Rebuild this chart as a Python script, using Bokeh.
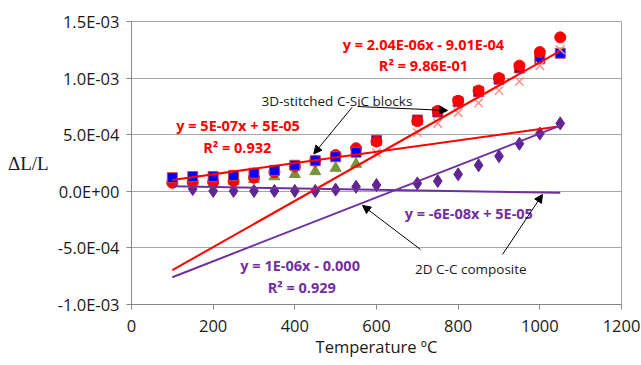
import numpy as np
from bokeh.plotting import figure
from bokeh.models import Range1d, FixedTicker, Label, Arrow, NormalHead
from bokeh.embed import file_html
from bokeh.resources import INLINE

# ---------------- data ----------------
temps = [100, 150, 200, 250, 300, 350, 400, 450, 500, 550, 600,
         700, 750, 800, 850, 900, 950, 1000, 1050]
blue_squares = [1.2e-4, 1.3e-4, 1.3e-4, 1.4e-4, 1.6e-4, 1.85e-4, 2.3e-4, 2.7e-4, 3.05e-4, 3.45e-4, 4.5e-4,
                6.3e-4, 7.0e-4, 7.9e-4, 8.8e-4, 9.9e-4, 1.09e-3, 1.17e-3, 1.22e-3]
red_circles = [7.5e-5, 8e-5, 8e-5, 9e-5, 1.2e-4, 1.7e-4, 2.2e-4, 2.7e-4, 3.2e-4, 3.8e-4, 4.4e-4,
               6.2e-4, 7.1e-4, 8.0e-4, 8.9e-4, 1.0e-3, 1.11e-3, 1.23e-3, 1.36e-3]
green_temps = [250, 300, 350, 400, 450, 500, 550]
green_triangles = [9e-5, 1.05e-4, 1.3e-4, 1.5e-4, 1.75e-4, 2.05e-4, 2.4e-4]
pink_temps = [600, 700, 750, 800, 850, 900, 950, 1000, 1050]
pink_crosses = [3.4e-4, 5.2e-4, 6.0e-4, 6.95e-4, 7.8e-4, 8.9e-4, 9.7e-4, 1.11e-3, 1.25e-3]
purple_diamonds = [9e-5, 2e-5, 3e-6, 3e-6, 3e-6, 3e-6, 3e-6, 3e-6, 1.5e-5, 4e-5, 5.5e-5,
                   7e-5, 9e-5, 1.5e-4, 2.3e-4, 3.1e-4, 4.2e-4, 5.1e-4, 6.0e-4]

# trendlines: slope, intercept over the fitted temperature span
trend_span = [100, 1050]
trend_slopes = [5e-7, 2.04e-6, -6e-8, 1.41e-6]
trend_intercepts = [5e-5, -9.01e-4, 5e-5, -9.0e-4]
trend_colors = ["#ff0000", "#ff0000", "#7030a0", "#7030a0"]

x_ticks = [0, 200, 400, 600, 800, 1000, 1200]
y_ticks = [-0.001, -0.0005, 0.0, 0.0005, 0.001, 0.0015]
y_tick_labels = ["-1.0E-03", "-5.0E-04", "0.0E+00", "5.0E-04", "1.0E-03", "1.5E-03"]

# ---------------- figure ----------------
p = figure(width=641, height=365, x_range=Range1d(0, 1200), y_range=Range1d(-0.001, 0.0015),
           output_backend="svg", toolbar_location=None,
           min_border_left=131, min_border_right=20, min_border_top=21, min_border_bottom=61)

p.xaxis.ticker = FixedTicker(ticks=x_ticks)
p.yaxis.ticker = FixedTicker(ticks=y_ticks)
p.ygrid.ticker = FixedTicker(ticks=y_ticks)
p.yaxis.major_label_overrides = {float(t): l for t, l in zip(y_ticks, y_tick_labels)}
p.xgrid.visible = False
p.ygrid.grid_line_color = "#a6a6a6"
p.outline_line_color = "#a6a6a6"
p.background_fill_color = "white"
p.border_fill_color = "white"

for ax in (p.xaxis[0], p.yaxis[0]):
    ax.axis_line_color = "#868686"
    ax.major_tick_line_color = "#868686"
    ax.minor_tick_line_color = None
    ax.major_tick_out = 5
    ax.major_tick_in = 0
    ax.major_label_text_font = "Open Sans"
    ax.major_label_text_font_size = "16.5px"
    ax.major_label_text_color = "#1a1a1a"
p.yaxis.major_label_standoff = 7
p.xaxis.major_label_standoff = 10

p.xaxis.axis_label = "Temperature \u00baC"
p.xaxis.axis_label_text_font = "Open Sans"
p.xaxis.axis_label_text_font_style = "normal"
p.xaxis.axis_label_text_font_size = "16.5px"
p.xaxis.axis_label_text_color = "#1a1a1a"
p.xaxis.axis_label_standoff = 0

p.yaxis.axis_label = "\u0394L/L"
p.yaxis.axis_label_orientation = "horizontal"
p.yaxis.axis_label_text_font = "Liberation Serif"
p.yaxis.axis_label_text_font_style = "normal"
p.yaxis.axis_label_text_font_size = "19px"
p.yaxis.axis_label_text_color = "#1a1a1a"
p.yaxis.axis_label_standoff = 6

t = np.array(temps)
low = t <= 550
high = t >= 600
bs = np.array(blue_squares)
rc = np.array(red_circles)

# markers
p.scatter(temps, purple_diamonds, marker="diamond", size=13, fill_color="#5f2593", line_color="#5f2593")
p.scatter(green_temps, green_triangles, marker="triangle", size=11, fill_color="#77933c", line_color="#77933c")
p.scatter(t[low], rc[low], marker="circle", size=11, fill_color="#ff0000", line_color="#ff0000")
p.scatter(t[low], bs[low], marker="square", size=10, fill_color="#0000ff", line_color="#d04040", line_width=1)
p.scatter(t[high], bs[high], marker="square", size=10, fill_color="#0000ff", line_color="#d04040", line_width=1)
p.scatter(t[high], rc[high], marker="circle", size=11, fill_color="#ff0000", line_color="#ff0000")
p.scatter(pink_temps, pink_crosses, marker="x", size=12, line_color="#ff9090", line_width=1.5)

# trendlines
xs_t = np.array(trend_span, dtype=float)
for s, b, c in zip(trend_slopes, trend_intercepts, trend_colors):
    p.line(xs_t, s * xs_t + b, line_color=c, line_width=2)

# text annotations (x, y, text, color, weight, size)
notes = [
    (715, 1.296e-3, "y = 2.04E-06x - 9.01E-04", "#ff0000", "bold", "14.5px"),
    (715, 1.111e-3, "R\u00b2 = 9.86E-01", "#ff0000", "bold", "14.5px"),
    (503, 8.02e-4, "3D-stitched C-SiC blocks", "#1a1a1a", "normal", "13.5px"),
    (261, 5.8e-4, "y = 5E-07x + 5E-05", "#ff0000", "bold", "14.5px"),
    (259, 3.9e-4, "R\u00b2 = 0.932", "#ff0000", "bold", "14.5px"),
    (413, -6.55e-4, "y = 1E-06x - 0.000", "#7030a0", "bold", "14.5px"),
    (417, -8.47e-4, "R\u00b2 = 0.929", "#7030a0", "bold", "14.5px"),
    (826, -1.93e-4, "y = -6E-08x + 5E-05", "#7030a0", "bold", "14.5px"),
    (831, -6.9e-4, "2D C-C composite", "#1a1a1a", "normal", "13.5px"),
]
for x, y, txt, col, wt, sz in notes:
    p.add_layout(Label(x=x, y=y, text=txt, text_color=col, text_font="Open Sans",
                       text_font_style=wt, text_font_size=sz,
                       text_align="center", text_baseline="middle"))

# arrows (x_start, y_start, x_end, y_end)
arrows = [
    (540.5, 7.43e-4, 446.5, 3.31e-4),
    (553.5, 7.49e-4, 774.0, 7.14e-4),
    (707.8, -5.14e-4, 565.7, -1.25e-4),
    (908.6, -5.58e-4, 1006.5, -0.28e-4),
]
for xs0, ys0, xe, ye in arrows:
    p.add_layout(Arrow(end=NormalHead(size=8, fill_color="black", line_color="black"),
                       x_start=xs0, y_start=ys0, x_end=xe, y_end=ye,
                       line_color="black", line_width=1))

open("out.html", "w").write(file_html(p, INLINE))
